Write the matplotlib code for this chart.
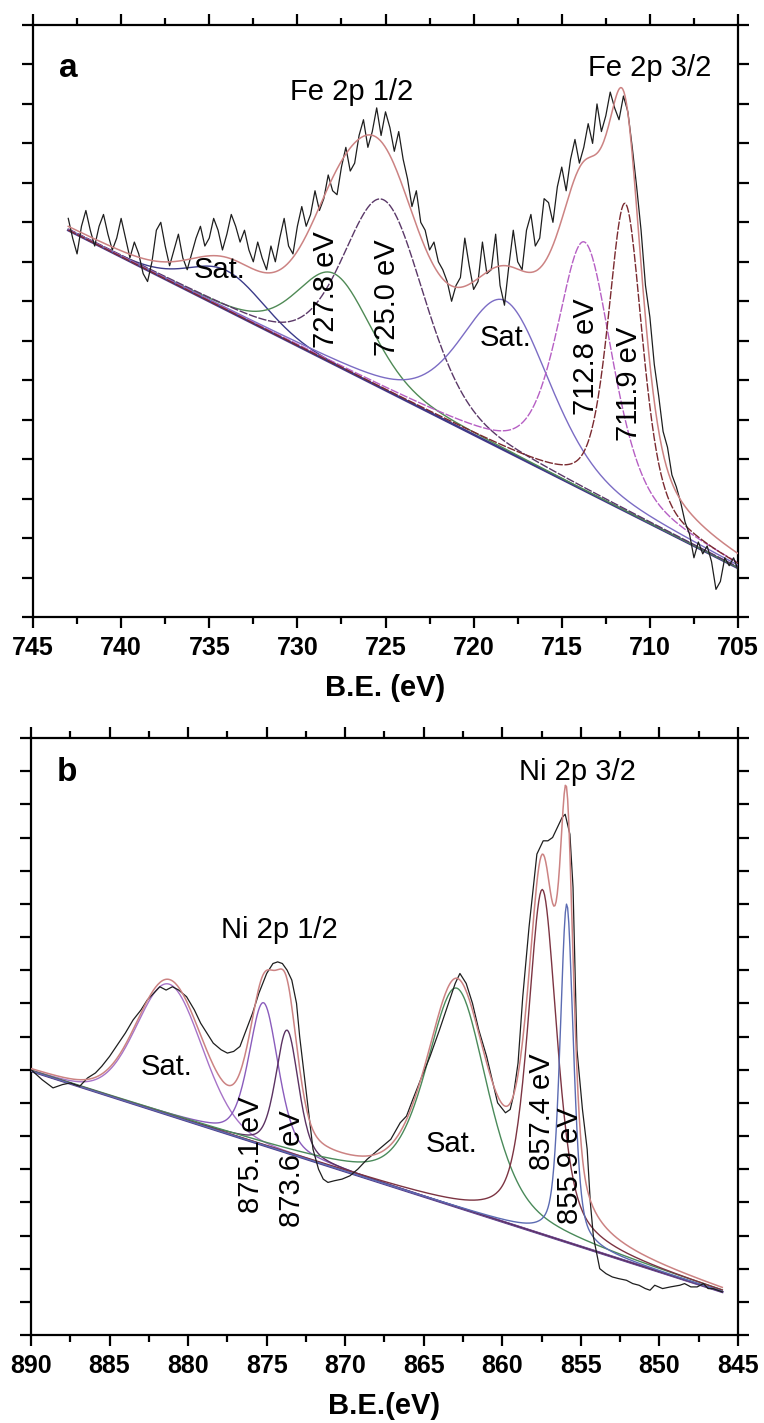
import numpy as np
import matplotlib
matplotlib.use("Agg")
import matplotlib.pyplot as plt
from matplotlib.ticker import MultipleLocator

plt.rcParams['font.family'] = ['Liberation Sans', 'DejaVu Sans']

# ---------------- panel a : Fe 2p ----------------
# linear background (B.E., intensity in tick units)
fe_bg_be = [743.0, 705.0]
fe_bg_int = [9.8, 1.24]

# fitted components: centre, height above background, FWHM, Lorentz fraction
fe_center = [734.0, 727.9, 725.1, 718.2, 713.7, 711.4]
fe_height = [1.0, 2.3, 4.8, 3.8, 6.3, 7.8]
fe_fwhm = [5.0, 5.0, 5.4, 6.0, 3.7, 2.3]
fe_eta = [0.1, 0.3, 0.3, 0.4, 0.5, 0.5]
fe_colors = ['#3b3b8a', '#4f8a55', '#5a3868', '#7b6cc4', '#b65fc4', '#7a2a30']
fe_styles = ['-', '-', (0, (6, 1.2)), '-', (0, (6, 1.2)), (0, (6, 1.2))]

# measured spectrum, 743.0 eV down to 705.0 eV every 0.25 eV
fe_raw = [
    10.1, 9.6, 9.2, 9.9, 10.3, 9.8, 9.4, 9.9,
    10.2, 9.7, 9.3, 9.6, 10.1, 9.6, 9.1, 9.5,
    9.2, 8.7, 8.5, 9.0, 9.8, 10.0, 9.4, 8.9,
    9.3, 9.7, 9.1, 8.8, 9.2, 9.6, 9.9, 9.4,
    9.6, 10.1, 9.8, 9.3, 9.7, 10.2, 9.9, 9.5,
    9.8, 9.3, 9.0, 9.5, 9.1, 8.8, 9.4, 9.0,
    9.6, 10.1, 9.4, 9.2, 9.9, 10.4, 9.9, 10.2,
    10.8, 10.3, 10.6, 11.2, 10.8, 10.7, 11.4, 11.9,
    11.3, 11.5, 12.2, 12.6, 11.9, 12.3, 12.9, 12.2,
    12.8, 12.4, 11.8, 12.3, 11.6, 11.1, 10.4, 10.8,
    10.0, 9.8, 9.3, 9.5, 9.0, 8.8, 8.5, 8.0,
    8.4, 8.6, 9.6, 8.9, 8.3, 8.5, 9.5, 8.7,
    8.8, 9.7, 8.4, 7.9, 8.9, 9.8, 9.0, 8.8,
    9.8, 10.2, 9.4, 9.6, 10.6, 10.5, 10.0, 10.9,
    11.4, 10.8, 11.6, 12.1, 11.5, 11.9, 12.5, 12.0,
    13.0, 12.3, 12.7, 13.3, 12.9, 12.6, 13.2, 12.8,
    11.9, 10.9, 9.8, 8.4, 7.6, 6.4, 5.6, 4.7,
    4.3, 3.6, 3.3, 2.9, 2.4, 2.1, 1.5, 1.9,
    1.6, 1.8, 1.4, 0.7, 0.9, 1.5, 1.3, 1.5,
    1.2,
]

fe_labels = ['Sat.', '727.8 eV', '725.0 eV', 'Sat.', '712.8 eV', '711.9 eV']
fe_label_x = [734.4, 728.4, 724.9, 718.2, 713.6, 711.2]
fe_label_y = [8.8, 8.3, 8.1, 7.07, 6.6, 5.9]
fe_label_rot = [0, 90, 90, 0, 90, 90]

# ---------------- panel b : Ni 2p ----------------
ni_bg_be = [890.0, 846.0]
ni_bg_int = [7.96, 1.30]

ni_center = [881.2, 875.2, 873.7, 862.9, 857.45, 855.9]
ni_height = [3.95, 4.3, 3.7, 6.6, 10.4, 10.2]
ni_fwhm = [4.9, 2.2, 1.7, 4.6, 2.2, 1.0]
ni_eta = [0.1, 0.4, 0.4, 0.5, 0.6, 0.5]
ni_colors = ['#a773c8', '#8a5cbc', '#5b3262', '#4a8a5a', '#7c3442', '#5b6bb2']

ni_raw_be = [
    890.0, 889.3, 888.6, 888.0, 887.5, 886.9, 886.4, 885.9, 885.5, 885.0,
    884.5, 884.0, 883.5, 883.0, 882.6, 882.2, 881.8, 881.4, 881.0, 880.6,
    880.1, 879.6, 879.2, 878.8, 878.4, 877.9, 877.5, 877.1, 876.7, 876.3,
    875.9, 875.5, 875.0, 874.6, 874.3, 874.0, 873.7, 873.4, 873.1, 872.9,
    872.6, 872.3, 872.05, 871.7, 871.4, 871.1, 870.7, 870.2, 869.7, 869.2,
    868.6, 868.1, 867.6, 867.1, 866.5, 866.1, 865.7, 865.2, 864.6, 864.0,
    863.5, 863.0, 862.7, 862.3, 861.9, 861.5, 861.0, 860.6, 860.3, 859.8,
    859.5, 859.3, 859.0, 858.7, 858.3, 857.8, 857.4, 857.1, 856.8, 856.5,
    856.2, 856.0, 855.7, 855.5, 855.25, 854.9, 854.6, 854.4, 854.2, 853.8,
    853.4, 853.0, 852.6, 852.1, 851.7, 851.3, 850.9, 850.6, 850.3, 849.8,
    849.3, 848.7, 848.4, 848.0, 847.6, 847.2, 846.9, 846.6, 846.3, 846.0,
]
ni_raw_int = [
    8.0, 7.7, 7.45, 7.55, 7.6, 7.5, 7.75, 7.9, 8.1, 8.4,
    8.75, 9.1, 9.5, 9.8, 10.1, 10.3, 10.5, 10.4, 10.5, 10.4,
    10.2, 9.8, 9.4, 9.1, 8.8, 8.6, 8.5, 8.55, 8.7, 9.2,
    9.7, 10.3, 10.9, 11.2, 11.25, 11.2, 11.0, 10.7, 10.0, 9.0,
    7.8, 6.6, 5.6, 5.0, 4.7, 4.6, 4.65, 4.7, 4.8, 5.0,
    5.3, 5.5, 5.7, 5.9, 6.4, 6.6, 7.1, 7.7, 8.4, 9.2,
    9.9, 10.6, 10.9, 10.6, 10.0, 9.2, 8.4, 7.6, 7.0, 6.7,
    6.8, 7.2, 8.2, 10.2, 12.3, 14.5, 14.9, 14.9, 15.0, 15.3,
    15.6, 15.7, 15.1, 13.5, 8.6, 6.8, 5.6, 4.0, 2.95, 2.0,
    1.85, 1.75, 1.7, 1.65, 1.55, 1.5, 1.4, 1.35, 1.5, 1.4,
    1.45, 1.5, 1.55, 1.45, 1.45, 1.55, 1.4, 1.4, 1.35, 1.3,
]

ni_labels = ['Sat.', '875.1 eV', '873.6 eV', 'Sat.', '857.4 eV', '855.9 eV']
ni_label_x = [881.4, 876.0, 873.4, 863.2, 857.5, 855.7]
ni_label_y = [8.08, 5.43, 5.03, 5.76, 6.72, 5.1]
ni_label_rot = [0, 90, 90, 0, 90, 90]


def pseudo_voigt(x, c, h, w, eta):
    d = (x - c) / w
    gauss = np.exp(-4 * np.log(2) * d ** 2)
    lor = 1.0 / (1.0 + 4 * d ** 2)
    return h * (eta * lor + (1 - eta) * gauss)


def style_axes(ax, xlim, ymax, xlabel):
    ax.set_xlim(*xlim)
    ax.set_ylim(0, ymax)
    ax.xaxis.set_major_locator(MultipleLocator(5))
    ax.xaxis.set_minor_locator(MultipleLocator(2.5))
    ax.yaxis.set_major_locator(MultipleLocator(1))
    ax.tick_params(which='both', direction='out', top=True, right=True,
                   labelleft=False, width=1.6)
    ax.tick_params(which='major', length=8, labelsize=18, pad=6)
    ax.tick_params(which='minor', length=5)
    for lab in ax.get_xticklabels():
        lab.set_fontweight('bold')
    for s in ax.spines.values():
        s.set_linewidth(1.6)
    ax.set_xlabel(xlabel, fontsize=21, fontweight='bold', labelpad=10)


def draw_panel(ax, bg_be, bg_int, centers, heights, fwhms, etas, colors, styles,
               raw_be, raw_int):
    x = np.linspace(bg_be[0], bg_be[1], 600)
    bg = np.interp(x, bg_be[::-1], bg_int[::-1])
    ax.plot(bg_be, bg_int, color='#5a3f8e', lw=1.8, zorder=2)
    ax.plot(bg_be, bg_int, color='#2f3a7a', lw=0.8, zorder=2)
    env = bg.copy()
    for c, h, w, e, col, ls in zip(centers, heights, fwhms, etas, colors, styles):
        p = pseudo_voigt(x, c, h, w, e)
        env += p
        ax.plot(x, bg + p, color=col, lw=1.0, ls=ls, zorder=3)
    ax.plot(raw_be, raw_int, color='#1e1e1e', lw=0.9, zorder=4)
    ax.plot(x, env, color='#cc8383', lw=1.1, zorder=5)


fig = plt.figure(figsize=(7.64, 14.23), dpi=100)
fig.patch.set_facecolor('white')

ax_a = fig.add_axes([33 / 764, 1 - 617 / 1423, 705 / 764, 592 / 1423])
fe_be = 743.0 - 0.25 * np.arange(len(fe_raw))
draw_panel(ax_a, fe_bg_be, fe_bg_int, fe_center, fe_height, fe_fwhm, fe_eta,
           fe_colors, fe_styles, fe_be, fe_raw)
style_axes(ax_a, (745, 705), 15, 'B.E. (eV)')
for t, tx, ty, r in zip(fe_labels, fe_label_x, fe_label_y, fe_label_rot):
    ax_a.text(tx, ty, t, rotation=r, fontsize=21, ha='center', va='center', zorder=6)
ax_a.text(743.0, 13.9, 'a', fontsize=24, fontweight='bold', ha='center', va='center')
ax_a.text(726.9, 13.3, 'Fe 2p 1/2', fontsize=21, ha='center', va='center')
ax_a.text(710.0, 13.9, 'Fe 2p 3/2', fontsize=21, ha='center', va='center')

ax_b = fig.add_axes([31 / 764, 1 - 1335 / 1423, 707 / 764, 597 / 1423])
ni_styles = ['-'] * len(ni_center)
draw_panel(ax_b, ni_bg_be, ni_bg_int, ni_center, ni_height, ni_fwhm, ni_eta,
           ni_colors, ni_styles, ni_raw_be, ni_raw_int)
style_axes(ax_b, (890, 845), 18, 'B.E.(eV)')
for t, tx, ty, r in zip(ni_labels, ni_label_x, ni_label_y, ni_label_rot):
    ax_b.text(tx, ty, t, rotation=r, fontsize=21, ha='center', va='center', zorder=6)
ax_b.text(887.7, 16.97, 'b', fontsize=24, fontweight='bold', ha='center', va='center')
ax_b.text(874.2, 12.2, 'Ni 2p 1/2', fontsize=21, ha='center', va='center')
ax_b.text(855.25, 16.97, 'Ni 2p 3/2', fontsize=21, ha='center', va='center')

fig.savefig('out.png', dpi=100)
